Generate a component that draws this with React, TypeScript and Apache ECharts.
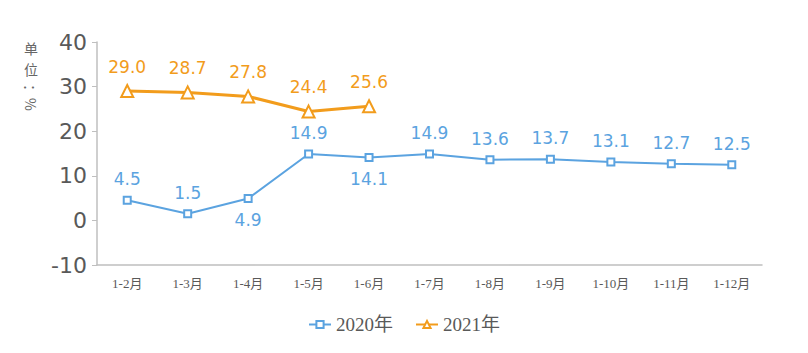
import React, { useEffect, useRef } from "react";
import * as echarts from "echarts";

const categories = ["1-2月", "1-3月", "1-4月", "1-5月", "1-6月", "1-7月", "1-8月", "1-9月", "1-10月", "1-11月", "1-12月"];
const values2020 = [4.5, 1.5, 4.9, 14.9, 14.1, 14.9, 13.6, 13.7, 13.1, 12.7, 12.5];
const values2021 = [29.0, 28.7, 27.8, 24.4, 25.6];
const labelsBelow2020 = [2, 4];
const yTicks = { min: -10, max: 40, interval: 10 };

const BLUE = "#5ba3e0";
const ORANGE = "#f29c1c";

export default function App() {
  const ref = useRef<HTMLDivElement>(null);
  useEffect(() => {
    const chart = echarts.init(ref.current!, null, { renderer: "svg" });
    const nameStyle = { fontSize: 14, lineHeight: 15, fill: "#666", align: "center", verticalAlign: "top", fontFamily: "Noto Sans CJK SC" };
    chart.setOption({
      animation: false,
      grid: { left: 89, right: 38, top: 34, bottom: 80 },
      legend: {
        bottom: 6,
        left: "center",
        itemWidth: 22,
        itemHeight: 9,
        itemGap: 22,
        textStyle: { fontFamily: "Liberation Serif, Noto Sans CJK SC, serif", fontSize: 19, color: "#595959" },
        data: ["2020年", "2021年"],
      },
      graphic: [
        { type: "text", x: 23, y: 32, style: { ...nameStyle, text: "单" } },
        { type: "text", x: 23, y: 53, style: { ...nameStyle, text: "位" } },
        {
          type: "text",
          x: 23,
          y: 76,
          rotation: -Math.PI / 2,
          style: { text: "：%", fontSize: 14, lineHeight: 15, fill: "#666", align: "left", verticalAlign: "middle", fontFamily: "Noto Sans CJK SC" },
        },
      ],
      xAxis: {
        type: "category",
        data: categories,
        boundaryGap: true,
        axisLine: { onZero: false, lineStyle: { color: "#bfbfbf", width: 1.5 } },
        axisTick: { show: false },
        axisLabel: { color: "#595959", fontSize: 13, margin: 12, fontFamily: "Liberation Serif, Noto Sans CJK SC, serif" },
      },
      yAxis: {
        type: "value",
        min: yTicks.min,
        max: yTicks.max,
        interval: yTicks.interval,
        splitLine: { show: false },
        axisLine: { show: true, lineStyle: { color: "#bfbfbf", width: 1.5 } },
        axisTick: { show: true, length: 5, lineStyle: { color: "#bfbfbf" } },
        axisLabel: { color: "#595959", fontSize: 22, margin: 10, fontFamily: "DejaVu Sans" },
      },
      series: [
        {
          name: "2020年",
          type: "line",
          data: values2020.map((v, i) => ({
            value: v,
            label: { position: labelsBelow2020.includes(i) ? "bottom" : "top" },
          })),
          symbol: "emptyRect",
          symbolSize: 7,
          color: BLUE,
          lineStyle: { width: 2, color: BLUE },
          itemStyle: { color: BLUE, borderWidth: 2 },
          label: {
            show: true,
            formatter: (p: any) => p.value.toFixed(1),
            color: BLUE,
            fontSize: 17,
            distance: 8,
            fontFamily: "DejaVu Sans",
          },
        },
        {
          name: "2021年",
          type: "line",
          data: values2021,
          symbol: "emptyTriangle",
          symbolSize: 12,
          color: ORANGE,
          lineStyle: { width: 3, color: ORANGE },
          itemStyle: { color: ORANGE, borderWidth: 2.5 },
          label: {
            show: true,
            position: "top",
            formatter: (p: any) => p.value.toFixed(1),
            color: ORANGE,
            fontSize: 17,
            distance: 9,
            fontFamily: "DejaVu Sans",
          },
        },
      ],
    });
    return () => chart.dispose();
  }, []);
  return <div ref={ref} style={{ width: 792, height: 337 }} />;
}
